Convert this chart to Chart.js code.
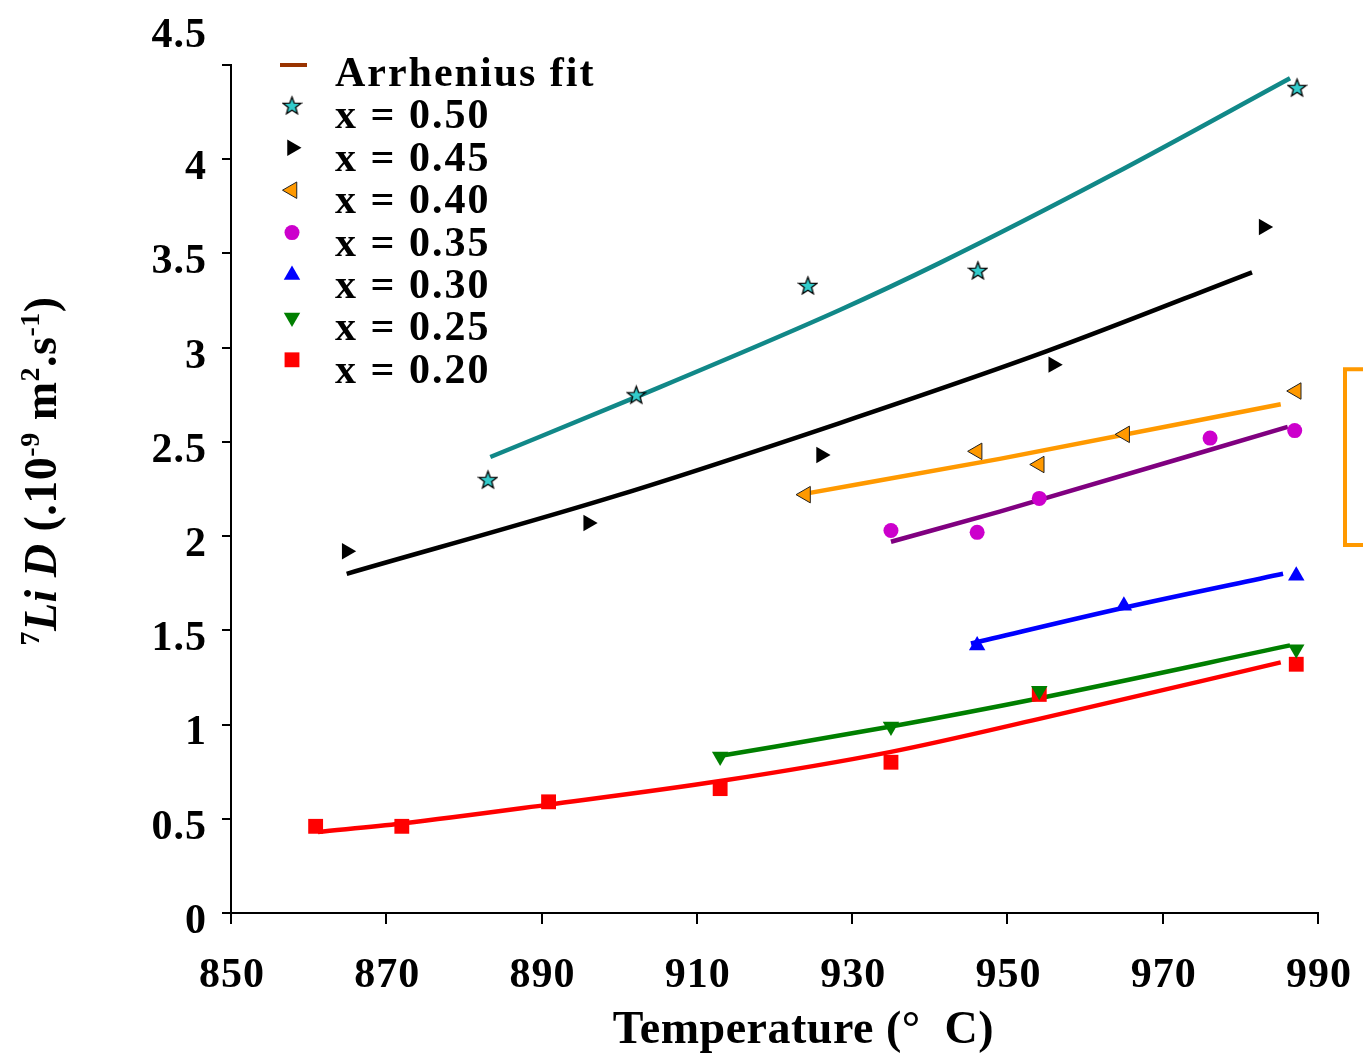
<!DOCTYPE html>
<html>
<head>
<meta charset="utf-8">
<title>7Li diffusion coefficient vs temperature</title>
<script src="https://cdn.jsdelivr.net/npm/chart.js@4.4.1/dist/chart.umd.min.js"></script>
<style>
  html, body { margin: 0; padding: 0; background: #fff; }
  #wrap { width: 1363px; height: 1055px; }
</style>
</head>
<body>
<div id="wrap"><canvas id="myChart" width="1363" height="1055"></canvas></div>
<script>
// axis ticks
const xTicks = [850, 870, 890, 910, 930, 950, 970, 990];
const yTicks = [0, 0.5, 1, 1.5, 2, 2.5, 3, 3.5, 4, 4.5];

const seriesNames = ['x = 0.50', 'x = 0.45', 'x = 0.40', 'x = 0.35', 'x = 0.30', 'x = 0.25', 'x = 0.20'];
const fitName = 'Arrhenius fit';

// measured points (temperature in C, D in 1e-9 m2/s)
const tempX50 = [883.1, 902.2, 924.3, 946.2, 987.3];
const diffX50 = [2.30, 2.75, 3.33, 3.41, 4.38];
const tempX45 = [864.9, 896.0, 926.0, 955.9, 983.0];
const diffX45 = [1.92, 2.07, 2.43, 2.91, 3.64];
const tempX40 = [924.0, 946.1, 954.1, 965.1, 987.2];
const diffX40 = [2.22, 2.45, 2.38, 2.54, 2.77];
const tempX35 = [935.0, 946.1, 954.1, 976.1, 987.0];
const diffX35 = [2.03, 2.02, 2.20, 2.52, 2.56];
const tempX30 = [946.1, 965.0, 987.2];
const diffX30 = [1.42, 1.63, 1.79];
const tempX25 = [913.0, 935.0, 954.1, 987.2];
const diffX25 = [0.83, 0.99, 1.18, 1.40];
const tempX20 = [860.9, 872.0, 890.9, 913.0, 935.0, 954.1, 987.2];
const diffX20 = [0.46, 0.46, 0.59, 0.66, 0.80, 1.16, 1.32];

// arrhenius fit curves
const fitTX50 = [883.4, 902.3, 928.4, 941.3, 963.6, 986.4];
const fitDX50 = [2.42, 2.74, 3.20, 3.45, 3.92, 4.43];
const fitTX45 = [864.9, 900.1, 928.4, 955.0, 981.5];
const fitDX45 = [1.80, 2.22, 2.60, 2.98, 3.40];
const fitTX40 = [923.3, 949.0, 985.2];
const fitDX40 = [2.22, 2.41, 2.70];
const fitTX35 = [935.0, 949.0, 986.1];
const fitDX35 = [1.97, 2.13, 2.58];
const fitTX30 = [945.3, 965.0, 985.5];
const fitDX30 = [1.43, 1.62, 1.80];
const fitTX25 = [912.5, 935.0, 954.1, 986.4];
const fitDX25 = [0.83, 0.99, 1.14, 1.42];
const fitTX20 = [861.2, 872.0, 890.9, 913.0, 935.0, 954.1, 985.2];
const fitDX20 = [0.43, 0.475, 0.575, 0.70, 0.855, 1.03, 1.33];

// orange bracket on the right edge
const bracketTop = 2.885;
const bracketBottom = 1.953;

const serif = '"Liberation Serif", "Times New Roman", serif';

function pts(xs, ys) {
    return xs.map((v, i) => ({ x: v, y: ys[i] }));
}

// filled 5 point star, chart.js only has the asterisk one
function makeStar(size) {
    const c = document.createElement('canvas');
    c.width = size;
    c.height = size;
    const g = c.getContext('2d');
    const cx = size / 2, cy = size / 2 + 0.8;
    const R = size / 2 - 1.2, r = R * 0.42;
    g.beginPath();
    for (let i = 0; i < 10; i++) {
        const a = -Math.PI / 2 + i * Math.PI / 5;
        const rad = i % 2 ? r : R;
        g.lineTo(cx + rad * Math.cos(a), cy + rad * Math.sin(a));
    }
    g.closePath();
    g.fillStyle = '#33CCCC';
    g.fill();
    g.strokeStyle = '#000';
    g.lineWidth = 1.3;
    g.stroke();
    return c;
}
const starImg = makeStar(21);

function markers(label, xs, ys, style, rot, r, fill, edge, bw) {
    return {
        type: 'scatter',
        label: label,
        data: pts(xs, ys),
        showLine: false,
        pointStyle: style,
        pointRotation: rot,
        pointRadius: r,
        pointBackgroundColor: fill,
        pointBorderColor: edge,
        pointBorderWidth: bw,
        order: 0
    };
}

function fit(xs, ys, color) {
    return {
        type: 'line',
        label: fitName,
        data: pts(xs, ys),
        showLine: true,
        borderColor: color,
        borderWidth: 4.5,
        pointRadius: 0,
        cubicInterpolationMode: 'monotone',
        fill: false,
        order: 1
    };
}

const datasets = [
    markers(seriesNames[0], tempX50, diffX50, starImg, 0, 10, '#33CCCC', '#000', 0),
    markers(seriesNames[1], tempX45, diffX45, 'triangle', 90, 9.5, '#000', '#000', 0),
    markers(seriesNames[2], tempX40, diffX40, 'triangle', -90, 9.5, '#FF9900', '#222', 1),
    markers(seriesNames[3], tempX35, diffX35, 'circle', 0, 7.5, '#CC00CC', '#CC00CC', 0),
    markers(seriesNames[4], tempX30, diffX30, 'triangle', 0, 9.5, '#0000FF', '#0000FF', 0),
    markers(seriesNames[5], tempX25, diffX25, 'triangle', 180, 9.5, '#007F00', '#007F00', 0),
    markers(seriesNames[6], tempX20, diffX20, 'rect', 0, 10.5, '#FF0000', '#FF0000', 0),
    fit(fitTX50, fitDX50, '#118888'),
    fit(fitTX45, fitDX45, '#000000'),
    fit(fitTX40, fitDX40, '#FF9900'),
    fit(fitTX35, fitDX35, '#800080'),
    fit(fitTX30, fitDX30, '#0000FF'),
    fit(fitTX25, fitDX25, '#007F00'),
    fit(fitTX20, fitDX20, '#FF0000')
];

// draws a run of text pieces (superscripts, italics) one after another
function drawRich(ctx, parts, x, y) {
    let w = 0;
    parts.forEach(p => { ctx.font = p.font; w += ctx.measureText(p.t).width; });
    let cx = x - w / 2;
    parts.forEach(p => {
        ctx.font = p.font;
        ctx.fillText(p.t, cx, y + (p.dy || 0));
        cx += ctx.measureText(p.t).width;
    });
}

const textPlugin = {
    id: 'textPlugin',
    afterDraw(chart) {
        const ctx = chart.ctx;
        const area = chart.chartArea;
        const xs = chart.scales.x;
        const ys = chart.scales.y;
        ctx.save();
        ctx.fillStyle = '#000';

        // tick labels
        ctx.font = 'bold 42px ' + serif;
        ctx.letterSpacing = '1px';
        ctx.textAlign = 'right';
        ctx.textBaseline = 'middle';
        yTicks.forEach((v, i) => {
            let py = ys.getPixelForValue(v) + 9;
            if (i === yTicks.length - 1) py -= 38;
            ctx.fillText(String(v), area.left - 24, py);
        });
        ctx.textAlign = 'center';
        ctx.textBaseline = 'alphabetic';
        xTicks.forEach(v => {
            ctx.fillText(String(v), xs.getPixelForValue(v) + 1, area.bottom + 74);
        });

        // x axis title
        ctx.font = 'bold 46px ' + serif;
        ctx.letterSpacing = '0.5px';
        ctx.fillText('Temperature (\u00B0  C)', (area.left + area.right) / 2 + 29, area.bottom + 130);

        // y axis title, rotated
        ctx.save();
        ctx.translate(56, (area.top + area.bottom) / 2 - 18);
        ctx.rotate(-Math.PI / 2);
        ctx.textAlign = 'left';
        const big = 'bold 46px ' + serif;
        const sup = 'bold 28px ' + serif;
        drawRich(ctx, [
            { t: '7', font: sup, dy: -17 },
            { t: 'Li D', font: 'italic bold 46px ' + serif },
            { t: ' (.10', font: big },
            { t: '-9', font: sup, dy: -17 },
            { t: ' m', font: big },
            { t: '2', font: sup, dy: -17 },
            { t: '.s', font: big },
            { t: '-1', font: sup, dy: -17 },
            { t: ')', font: big }
        ], 0, 0);
        ctx.restore();

        // legend in the top left of the plot
        const lx = 292, tx = 335;
        let base = 86;
        ctx.textAlign = 'left';
        ctx.font = 'bold 42px ' + serif;
        ctx.letterSpacing = '2px';
        ctx.strokeStyle = '#993300';
        ctx.lineWidth = 4;
        ctx.beginPath();
        ctx.moveTo(280, base - 21);
        ctx.lineTo(307, base - 21);
        ctx.stroke();
        ctx.fillText(fitName, tx, base);
        chart.data.datasets.forEach(ds => {
            if (ds.type !== 'scatter') return;
            base += 42.4;
            ctx.save();
            ctx.fillStyle = ds.pointBackgroundColor;
            ctx.strokeStyle = ds.pointBorderColor;
            ctx.lineWidth = ds.pointBorderWidth;
            Chart.helpers.drawPoint(ctx, {
                pointStyle: ds.pointStyle,
                rotation: ds.pointRotation,
                radius: ds.pointRadius,
                borderWidth: ds.pointBorderWidth
            }, lx, base - 23);
            ctx.restore();
            ctx.fillStyle = '#000';
            ctx.fillText(ds.label, tx, base);
        });
        ctx.letterSpacing = '0px';

        // bracket
        const bx = area.right + 27;
        const bt = ys.getPixelForValue(bracketTop);
        const bb = ys.getPixelForValue(bracketBottom);
        ctx.strokeStyle = '#FF9900';
        ctx.lineWidth = 4;
        ctx.beginPath();
        ctx.moveTo(chart.width, bt);
        ctx.lineTo(bx, bt);
        ctx.lineTo(bx, bb);
        ctx.lineTo(chart.width, bb);
        ctx.stroke();
        ctx.restore();
    }
};

const ctx = document.getElementById('myChart').getContext('2d');
const myChart = new Chart(ctx, {
    type: 'scatter',
    data: { datasets: datasets },
    options: {
        responsive: false,
        animation: false,
        layout: { padding: { top: 65, right: 45, left: 0, bottom: 0 } },
        plugins: {
            legend: { display: false },
            tooltip: { enabled: false }
        },
        scales: {
            x: {
                type: 'linear',
                min: 850,
                max: 990,
                afterBuildTicks: s => { s.ticks = xTicks.map(v => ({ value: v })); },
                afterFit: s => { s.height = 142; },
                ticks: { display: false },
                grid: { display: true, drawOnChartArea: false, drawTicks: true, tickLength: 11, color: '#000', lineWidth: 2 },
                border: { display: true, color: '#000', width: 2 }
            },
            y: {
                type: 'linear',
                min: 0,
                max: 4.5,
                afterBuildTicks: s => { s.ticks = yTicks.map(v => ({ value: v })); },
                afterFit: s => { s.width = 231; },
                ticks: { display: false },
                grid: { display: true, drawOnChartArea: false, drawTicks: true, tickLength: 9, color: '#000', lineWidth: 2 },
                border: { display: true, color: '#000', width: 2 }
            }
        }
    },
    plugins: [textPlugin]
});
</script>
</body>
</html>
